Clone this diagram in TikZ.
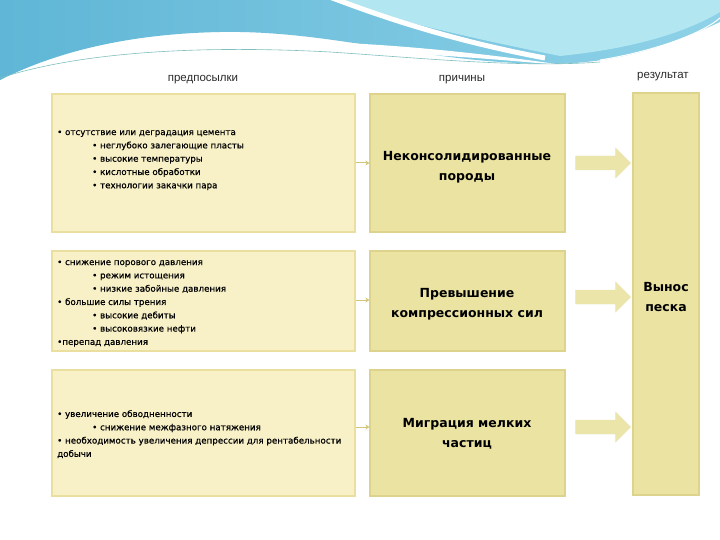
\documentclass[tikz,border=0pt]{standalone}
\usepackage{fontspec}
\setmainfont{DejaVu Sans}
\newfontfamily\hdrfont{Liberation Sans}
\newfontfamily\lfont[FakeBold=0.7]{DejaVu Sans}
\usetikzlibrary{arrows.meta,calc}
\definecolor{lightfill}{HTML}{F8F1C8}
\definecolor{lightdraw}{HTML}{EADF9E}
\definecolor{darkfill}{HTML}{EAE3A2}
\definecolor{darkdraw}{HTML}{DDD38C}
\definecolor{smallcol}{HTML}{D2C676}
\definecolor{arrowfill}{HTML}{ECE5AA}
\definecolor{bannerA}{HTML}{5FB6D6}
\definecolor{bannerB}{HTML}{8FD2E8}
\definecolor{bannerC}{HTML}{B2E6F0}
\definecolor{hdrcol}{HTML}{2A2A2A}
\tikzset{
  lbox/.style={draw=lightdraw, fill=lightfill, line width=1.2pt, inner sep=0},
  mbox/.style={draw=darkdraw, fill=darkfill, line width=1.2pt, inner sep=0},
  ltext/.style={font=\lfont\fontsize{8.7}{13.3}\selectfont, align=left, inner sep=0, anchor=north west},
  mtext/.style={font=\bfseries\fontsize{12.5}{20}\selectfont, align=center, inner sep=0},
  hdr/.style={font=\hdrfont\fontsize{11.5}{13}\selectfont, text=hdrcol, inner sep=0},
  smallarr/.style={draw=smallcol, line width=1pt, -{Stealth[length=4pt,width=5pt]}},
  bigarr/.style={fill=arrowfill, draw=darkdraw!60, line width=0.4pt}
}
\begin{document}
\begin{tikzpicture}[x=1pt,y=-1pt]
\useasboundingbox (0,0) rectangle (720,540);
\fill[white] (0,0) rectangle (720,540);
% banner
\shade[left color=bannerA, right color=bannerB] (0,0) -- (720,0) -- (720,22) .. controls (660,50) and (610,64) .. (545,64) .. controls (420,62) and (330,30) .. (220,32) .. controls (120,34) and (50,55) .. (0,80) -- cycle;
\fill[bannerC] (330,0) -- (720,0) -- (720,12) .. controls (690,30) and (640,48) .. (560,56) .. controls (480,40) and (400,22) .. (330,0) -- cycle;
\draw[white, line width=5pt] (330,-3) .. controls (400,24) and (470,44) .. (545,58);
\fill[white] (90,62) .. controls (200,30) and (380,38) .. (570,66) .. controls (380,48) and (200,42) .. (90,62) -- cycle;
\draw[teal!50, line width=0.6pt] (0,78) .. controls (80,52) and (200,45) .. (330,52) .. controls (420,58) and (520,68) .. (600,62);
\draw[white, line width=1pt] (600,60) .. controls (650,52) and (700,35) .. (720,18);
% headers
\node[hdr] (h1) at (203,80) {предпосылки};
\node[hdr] (h2) at (462,80) {причины};
\node[hdr] (h3) at (663,77) {результат};
% left boxes
\node[lbox, minimum width=303, minimum height=138] (p1) at (203.5,163) {};
\node[lbox, minimum width=303, minimum height=100] (p2) at (203.5,301) {};
\node[lbox, minimum width=303, minimum height=126] (p3) at (203.5,433) {};
% middle boxes
\node[mbox, minimum width=195, minimum height=138] (c1) at (467.5,163) {};
\node[mbox, minimum width=195, minimum height=100] (c2) at (467.5,301) {};
\node[mbox, minimum width=195, minimum height=126] (c3) at (467.5,433) {};
% right box
\node[mbox, minimum width=66, minimum height=402] (r) at (666,294) {};
% texts
\node[ltext] (t1) at (57,130) {• отсутствие или деградация цемента\\
\hspace*{35pt}• неглубоко залегающие пласты\\
\hspace*{35pt}• высокие температуры\\
\hspace*{35pt}• кислотные обработки\\
\hspace*{35pt}• технологии закачки пара};
\node[ltext] (t2) at (57,260) {• снижение порового давления\\
\hspace*{35pt}• режим истощения\\
\hspace*{35pt}• низкие забойные давления\\
• большие силы трения\\
\hspace*{35pt}• высокие дебиты\\
\hspace*{35pt}• высоковязкие нефти\\
•перепад давления};
\node[ltext] (t3) at (57,410) {• увеличение обводненности\\
\hspace*{35pt}• снижение межфазного натяжения\\
• необходимость увеличения депрессии для рентабельности\\
добычи};
\node[mtext] (m1) at (467,167) {Неконсолидированные\\породы};
\node[mtext] (m2) at (467,304) {Превышение\\компрессионных сил};
\node[mtext] (m3) at (467,434) {Миграция мелких\\частиц};
\node[mtext] (m4) at (666,297) {Вынос\\песка};
% small connectors
\draw[smallarr] (p1.east |- 0,163) -- (c1.west |- 0,163);
\draw[smallarr] (p2.east |- 0,300) -- (c2.west |- 0,300);
\draw[smallarr] (p3.east |- 0,427) -- (c3.west |- 0,427);
% big arrows (from middle boxes towards result box)
\foreach \yy/\nm in {163/c1, 297/c2, 427/c3} {
  \coordinate (s) at ($(\nm.east |- 0,\yy)+(10,0)$);
  \draw[bigarr] ($(s)+(0,-7)$) -- ++(40,0) -- ++(0,-8) -- ++(15,15) -- ++(-15,15) -- ++(0,-8) -- ++(-40,0) -- cycle;
}
\end{tikzpicture}
\end{document}
